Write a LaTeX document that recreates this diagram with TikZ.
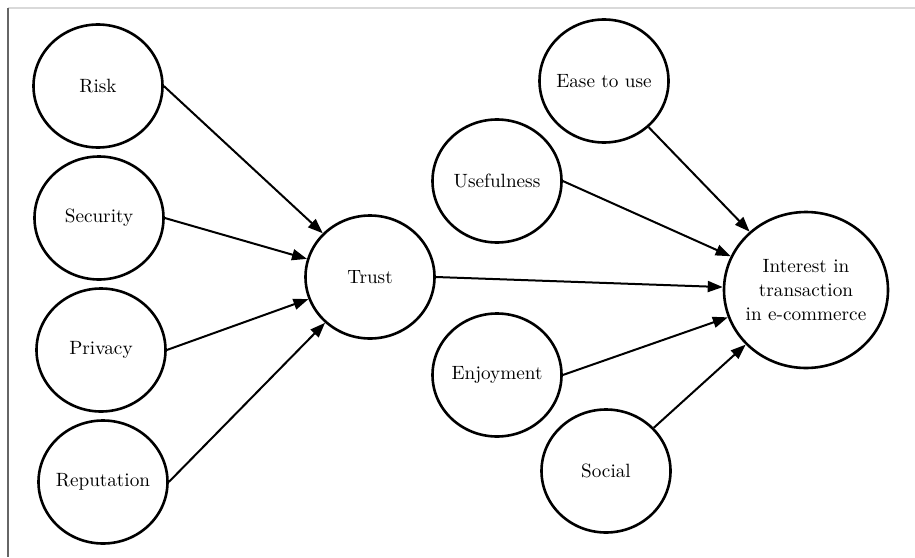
\documentclass[tikz,border=0pt]{standalone}
\usetikzlibrary{positioning,shapes.geometric,arrows.meta}
\begin{document}
\begin{tikzpicture}[x=0.5pt, y=-0.5pt, node distance={66pt}, main/.style = {draw, ellipse, line width=1.3pt, minimum width=64.5pt, minimum height=61.5pt, inner sep=0pt, inner xsep=-1.5pt, align=center, font=\fontsize{9.6}{12}\selectfont}, arr/.style = {line width=1pt, -{Triangle[length=7.5pt, width=5.5pt]}}] 
			\useasboundingbox (0,0) rectangle (915,557);
			\draw[black!15, line width=0.8pt] (8,8) -- (915,8);
			\draw[black!60, line width=0.8pt] (8,8) -- (8,557);
			\node[main] (1) at (98,86) {Risk}; 
			\node[main] (2) [below of=1, xshift=0.5pt] {Security};
			\node[main] (3) [below of=2, xshift=1pt] {Privacy};
			\node[main] (4) [below of=3, xshift=1pt] {Reputation};
			\node[main] (5) at (370,277) {Trust};
			\node[main] (6) at (604,81) {Ease to use};
			\node[main] (7) at (497,181) {Usefulness};
			\node[main] (8) at (497,375) {Enjoyment};
			\node[main] (9) at (606,471) {Social};
			\node[main, minimum width=82pt, minimum height=78pt] (10) at (806,290) {Interest in\\transaction\\in e-commerce};
			\draw[arr] (1.east) -- (5);
			\draw[arr] (2.east) -- (5);
			\draw[arr] (3.east) -- (5);
			\draw[arr] (4.east) -- (5);
			\draw[arr] (5.east) -- (10);
			\draw[arr] (6) -- (10);
			\draw[arr] (7.east) -- (10);
			\draw[arr] (8.east) -- (10);
			\draw[arr] (9) -- (10);
		\end{tikzpicture}
\end{document}
